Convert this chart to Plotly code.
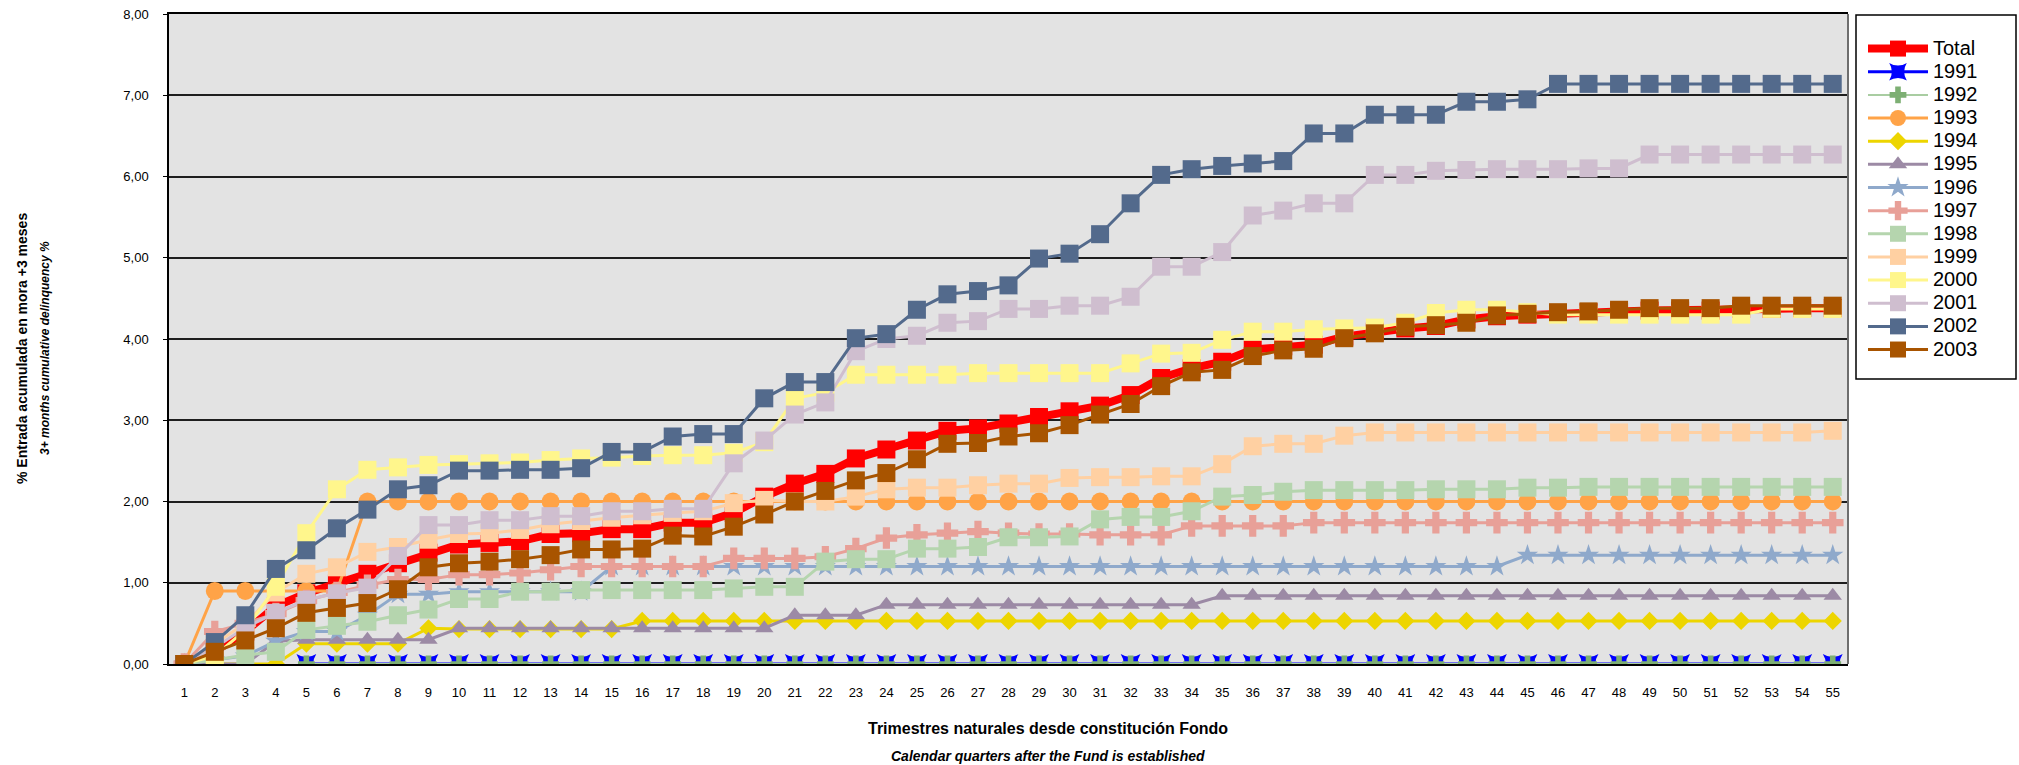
import plotly.graph_objects as go

quarters = list(range(1, 56))

total = [0, 0.15, 0.40, 0.71, 0.87, 0.99, 1.11, 1.24, 1.37, 1.47, 1.49, 1.51, 1.60, 1.61, 1.66, 1.66, 1.74, 1.74,
         1.86, 2.06, 2.22, 2.34, 2.53, 2.64, 2.75, 2.87, 2.90, 2.96, 3.04, 3.11, 3.18, 3.31, 3.52, 3.64, 3.72, 3.87,
         3.91, 3.93, 4.03, 4.09, 4.13, 4.16, 4.24, 4.28, 4.30, 4.32, 4.33, 4.34, 4.35, 4.35, 4.35, 4.37, 4.37, 4.38, 4.38]
y1991 = [None] * 4 + [0] * 51
y1992 = [None] * 4 + [0] * 51
y1993 = [0, 0.9, 0.9, 0.9, 0.9, 0.9] + [2.0] * 49
y1994 = [0, 0, 0, 0, 0.25, 0.25, 0.25, 0.25, 0.44, 0.43, 0.43, 0.43, 0.43, 0.43, 0.43] + [0.53] * 40
y1995 = [0, 0, 0, 0.28, 0.30, 0.30, 0.30, 0.30, 0.30] + [0.44] * 11 + [0.60] * 3 + [0.73] * 11 + [0.84] * 21
y1996 = [0, 0.05, 0.10, 0.28, 0.40, 0.40, 0.60, 0.86, 0.86] + [0.89] * 5 + [1.20] * 30 + [1.34] * 11
y1997 = [0, 0.40, 0.50, 0.62, 0.78, 0.88, 0.97, 1.04, 1.04, 1.10, 1.10, 1.12, 1.16] + [1.20] * 5 + [1.30] * 3 + \
        [1.32, 1.42, 1.55, 1.59, 1.61, 1.63, 1.61, 1.60, 1.60] + [1.59] * 3 + [1.70] * 4 + [1.74] * 18
y1998 = [0, 0.05, 0.11, 0.15, 0.42, 0.47, 0.52, 0.60, 0.67, 0.80, 0.80, 0.89, 0.89] + [0.91] * 5 + \
        [0.93, 0.95, 0.95] + [1.26, 1.29, 1.29, 1.42, 1.42, 1.44, 1.56, 1.56, 1.57, 1.78, 1.81, 1.81, 1.88, 2.06, 2.08, 2.12] + \
        [2.14] * 4 + [2.15] * 3 + [2.17] * 2 + [2.18] * 9
y1999 = [0, 0.25, 0.50, 0.88, 1.11, 1.19, 1.38, 1.44, 1.53, 1.60, 1.61, 1.65, 1.72, 1.76, 1.80, 1.83, 1.86, 1.88,
         1.98, 2.02, 2.00, 2.00, 2.06, 2.15, 2.17, 2.17, 2.20, 2.22, 2.22, 2.29, 2.30, 2.30, 2.31, 2.31, 2.46, 2.68,
         2.71, 2.71, 2.81] + [2.85] * 15 + [2.87]
y2000 = [0, 0.10, 0.42, 0.95, 1.61, 2.15, 2.39, 2.42, 2.45, 2.46, 2.47, 2.48, 2.51, 2.53, 2.54, 2.56, 2.57, 2.57,
         2.60, 2.73, 3.27, 3.34, 3.56, 3.56, 3.56, 3.56] + [3.58] * 5 + \
        [3.70, 3.82, 3.83, 3.99, 4.09, 4.09, 4.12, 4.13, 4.14, 4.20, 4.32, 4.36, 4.36, 4.33] + [4.30] * 7 + [4.37] * 3
y2001 = [0, 0.20, 0.45, 0.63, 0.79, 0.87, 0.94, 1.33, 1.71, 1.71, 1.77, 1.77, 1.82, 1.82, 1.88, 1.88, 1.91, 1.91,
         2.47, 2.75, 3.07, 3.22, 3.85, 4.00, 4.04, 4.20, 4.22, 4.37, 4.37, 4.41, 4.41, 4.52, 4.89, 4.89, 5.07, 5.52,
         5.58, 5.67, 5.67, 6.02, 6.02, 6.07, 6.08, 6.09, 6.09, 6.09, 6.10, 6.10] + [6.27] * 7
y2002 = [0, 0.27, 0.60, 1.17, 1.40, 1.67, 1.90, 2.15, 2.20, 2.38, 2.38, 2.39, 2.39, 2.41, 2.61, 2.61, 2.80, 2.83,
         2.83, 3.27, 3.47, 3.47, 4.01, 4.06, 4.36, 4.55, 4.59, 4.66, 4.99, 5.05, 5.29, 5.67, 6.02, 6.09, 6.13, 6.16,
         6.19, 6.53, 6.53, 6.76, 6.76, 6.76, 6.92, 6.92, 6.95] + [7.14] * 10
y2003 = [0, 0.15, 0.29, 0.44, 0.63, 0.69, 0.75, 0.92, 1.19, 1.24, 1.26, 1.29, 1.34, 1.41, 1.41, 1.42, 1.58, 1.57,
         1.69, 1.84, 2.00, 2.13, 2.26, 2.35, 2.52, 2.71, 2.72, 2.80, 2.84, 2.94, 3.07, 3.20, 3.42, 3.59, 3.62, 3.79,
         3.86, 3.88, 4.01, 4.07, 4.15, 4.17, 4.20, 4.29, 4.31, 4.33, 4.34, 4.36, 4.38, 4.38, 4.38, 4.41, 4.41, 4.41, 4.41]

series_names = ["Total", "1991", "1992", "1993", "1994", "1995", "1996", "1997", "1998", "1999", "2000", "2001",
                "2002", "2003"]
series_values = [total, y1991, y1992, y1993, y1994, y1995, y1996, y1997, y1998, y1999, y2000, y2001, y2002, y2003]

styles = {
    "Total": dict(color="#FF0000", symbol="square", size=18, lw=8),
    "1991": dict(color="#0000FF", symbol="star-square", size=18, lw=3),
    "1992": dict(color="#7DAF73", symbol="cross", size=14, lw=2, lcolor="#A9CDA2"),
    "1993": dict(color="#FFA347", symbol="circle", size=18, lw=3),
    "1994": dict(color="#EDD500", symbol="diamond", size=14, lw=3),
    "1995": dict(color="#9C8AA5", symbol="triangle-up", size=16, lw=3),
    "1996": dict(color="#8FA9CB", symbol="star", size=16, lw=3),
    "1997": dict(color="#E8A098", symbol="cross", size=18, lw=3),
    "1998": dict(color="#B5D5AE", symbol="square", size=18, lw=3),
    "1999": dict(color="#FFD0A2", symbol="square", size=18, lw=3),
    "2000": dict(color="#FFF68C", symbol="square", size=18, lw=3),
    "2001": dict(color="#CFBECF", symbol="square", size=18, lw=3),
    "2002": dict(color="#536A8C", symbol="square", size=18, lw=3),
    "2003": dict(color="#A85400", symbol="square", size=18, lw=3),
}

FONT = "Liberation Sans, Arial, sans-serif"
LEGEND_TEXT_PX = 20

fig = go.Figure()
for name, vals in zip(series_names, series_values):
    s = styles[name]
    fig.add_trace(go.Scatter(
        x=quarters, y=vals,
        name=f'<span style="font-size:{LEGEND_TEXT_PX}px">{name}</span>',
        mode="lines+markers",
        line=dict(color=s.get("lcolor", s["color"]), width=s["lw"]),
        marker=dict(symbol=s["symbol"], size=s["size"], color=s["color"], line=dict(width=0)),
        connectgaps=False,
    ))

L, R, T, B = 169, 2019 - 1848, 14, 765 - 664
pw, ph = 1848 - 169, 664 - 14


def px_x(x):
    return (x - L) / pw


def px_y(y):
    return (664 - y) / ph


fig.update_layout(
    width=2019, height=765,
    margin=dict(l=L, r=R, t=T, b=B, autoexpand=False),
    paper_bgcolor="white",
    plot_bgcolor="#E3E3E3",
    separators=",.",
    font=dict(family=FONT, size=13, color="black"),
    showlegend=True,
    legend=dict(
        x=px_x(1863), y=px_y(32), xanchor="left", yanchor="top",
        bgcolor="rgba(0,0,0,0)", borderwidth=0,
        font=dict(family=FONT, size=15.5, color="black"),
        itemwidth=60, tracegroupgap=0,
    ),
    xaxis=dict(
        range=[0.5, 55.5], tickmode="array", tickvals=quarters, ticktext=[str(q) for q in quarters],
        showgrid=False, zeroline=False, showline=True, linecolor="black", linewidth=1.5, mirror=True,
        ticks="", ticklabelstandoff=16, tickfont=dict(family=FONT, size=13),
        fixedrange=True,
    ),
    yaxis=dict(
        range=[0, 8], dtick=1, tick0=0, tickformat=".2f",
        showgrid=True, gridcolor="#1E1E1E", gridwidth=1.5,
        zeroline=False, showline=True, linecolor="black", linewidth=1.5,
        ticks="outside", ticklen=4, tickcolor="black", ticklabelstandoff=12,
        tickfont=dict(family=FONT, size=13),
        fixedrange=True,
    ),
    shapes=[
        dict(type="line", xref="paper", yref="paper", x0=1, x1=1, y0=0, y1=1,
             line=dict(color="#6E6E6E", width=2)),
        dict(type="rect", xref="paper", yref="paper",
             x0=px_x(1856), x1=px_x(2016), y0=px_y(379), y1=px_y(15),
             line=dict(color="black", width=1.5), fillcolor="white", layer="below"),
    ],
    annotations=[
        dict(text="<b>Trimestres naturales desde constitución Fondo</b>", xref="paper", yref="paper",
             x=px_x(1048), y=px_y(728), xanchor="center", yanchor="middle", showarrow=False,
             font=dict(family=FONT, size=16)),
        dict(text="<b><i>Calendar quarters after the Fund is established</i></b>", xref="paper", yref="paper",
             x=px_x(1048), y=px_y(756), xanchor="center", yanchor="middle", showarrow=False,
             font=dict(family=FONT, size=14)),
        dict(text="<b>% Entrada acumulada en mora +3 meses</b>", xref="paper", yref="paper",
             x=px_x(22), y=px_y(349), xanchor="center", yanchor="middle", showarrow=False, textangle=-90,
             font=dict(family=FONT, size=14)),
        dict(text="<b><i>3+ months cumulative delinquency %</i></b>", xref="paper", yref="paper",
             x=px_x(45), y=px_y(348), xanchor="center", yanchor="middle", showarrow=False, textangle=-90,
             font=dict(family=FONT, size=12)),
    ],
)

fig.write_html("out.html", include_plotlyjs=True, config={"displayModeBar": False},
               post_script="document.body.style.margin='0';document.body.style.overflow='hidden';")
